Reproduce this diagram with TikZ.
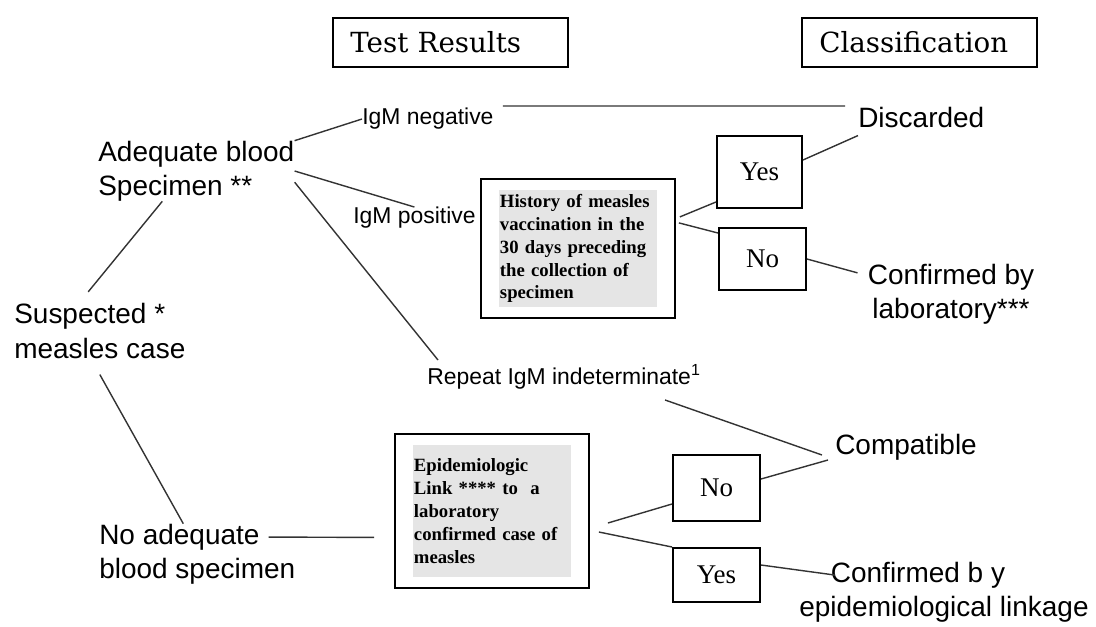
\documentclass[tikz,border=0pt]{standalone}
\usepackage{fontspec}
\setmainfont{Liberation Serif}
\setsansfont{Liberation Sans}
\newfontfamily\headfont{DejaVu Serif}
\usetikzlibrary{fit}

\begin{document}
\begin{tikzpicture}[x=0.025cm, y=-0.025cm,
	lbl/.style={inner sep=0pt, anchor=west, align=left, font=\sffamily\fontsize{19.9}{24.2}\selectfont},
	res/.style={inner sep=0pt, anchor=west, font=\sffamily\fontsize{16.3}{19.5}\selectfont},
	head/.style={draw, line width=1.4pt, minimum height=1.225cm, text width=5.005cm, inner xsep=0.435cm, align=left, font=\headfont\fontsize{19.7}{23}\selectfont},
	answer/.style={draw, line width=1.4pt, inner sep=0pt, font=\fontsize{19.2}{23}\selectfont},
	greybox/.style={fill=gray!20, inner sep=0.025cm, text width=3.9cm, align=left, font=\bfseries\fontsize{13.3}{16.3}\selectfont},
	outline/.style={draw, line width=1.4pt, inner xsep=0.44cm, inner ysep=0.27cm},
	link/.style={black!80, line width=1pt}]
	\useasboundingbox (0,0) rectangle (1096,626);

	% column headings
	\node [head] (tests) at (450.5,42.5) {Test Results};
	\node [head] (classes) at (919.5,42.5) {Classification};

	% cases and test results
	\node [lbl] (suspect) at (14,331) {Suspected *\\measles case};
	\node [lbl] (adequate) at (98,171) {Adequate blood\\Specimen **};
	\node [lbl] (noadequate) at (99,554) {No adequate\\blood specimen};
	\node [res] (igmneg) at (362,119) {IgM negative};
	\node [res] (igmpos) at (353,218) {IgM positive};
	\node [res] (repeat) at (427,377) {Repeat IgM indeterminate\textsuperscript{1}};

	% questions
	\node [greybox, minimum height=2.925cm] (histtext) at (578,248.5) {History of measles\\vaccination in the\\30 days preceding\\the collection of\\specimen};
	\node [outline, fit=(histtext)] (history) {};
	\node [greybox, minimum height=3.3cm] (epitext) at (492,511) {Epidemiologic\\Link **** to~ a\\laboratory\\confirmed case of\\measles};
	\node [outline, fit=(epitext)] (epilink) {};

	\node [answer, minimum width=2.125cm, minimum height=1.8cm] (yes1) at (759.5,172) {Yes};
	\node [answer, minimum width=2.175cm, minimum height=1.55cm] (no1) at (762.5,259) {No};
	\node [answer, minimum width=2.175cm, minimum height=1.65cm] (no2) at (716.5,488) {No};
	\node [answer, minimum width=2.175cm, minimum height=1.35cm] (yes2) at (716.5,575) {Yes};

	% classification
	\node [lbl] (discarded) at (858,117) {Discarded};
	\node [lbl, anchor=center, align=center] (bylab) at (951,294) {Confirmed by\\laboratory***};
	\node [lbl] (compatible) at (835,447) {Compatible};
	\node [lbl, anchor=center, align=center] (byepi) at (944,592) {Confirmed b y\hspace*{1.3cm}\\epidemiological linkage};

	% connectors
	\draw [link] ([xshift=-0.85cm]adequate.south) -- ([shift={(-0.29cm,0.29cm)}]suspect.north);
	\draw [link] ([yshift=-0.4cm]suspect.south) -- ([xshift=-0.35cm]noadequate.north);
	\draw [link] (adequate.north east) -- (igmneg.west);
	\draw [link] (adequate.east) -- (igmpos.north);
	\draw [link] ([yshift=-0.28cm]adequate.east) -- ([shift={(0.275cm,0.11cm)}]repeat.north west);
	\draw [link] ([shift={(-0.675cm,-0.335cm)}]noadequate.north east) -- ([shift={(-0.5cm,-0.66cm)}]epilink.west);
	\draw [link] ([shift={(0.225cm,0.325cm)}]igmneg.east) -- ([shift={(-0.325cm,0.275cm)}]discarded.west);
	\draw [link] ([shift={(0.1cm,0.79cm)}]history.east) -- ([yshift=0.175cm]yes1.south west);
	\draw [link] ([shift={(0.075cm,0.64cm)}]history.east) -- ([yshift=-0.15cm]no1.north west);
	\draw [link] ([yshift=0.3cm]yes1.east) -- ([yshift=-0.2cm]discarded.south west);
	\draw [link] (no1.east) -- ([shift={(-0.25cm,-0.23cm)}]bylab.north west);
	\draw [link] ([shift={(5.95cm,-0.26cm)}]repeat.south west) -- ([shift={(-0.325cm,-0.2cm)}]compatible.west);
	\draw [link] ([shift={(0.45cm,-0.3cm)}]epilink.east) -- ([yshift=-0.4cm]no2.west);
	\draw [link] ([shift={(0.225cm,-0.525cm)}]epilink.east) -- (yes2.north west);
	\draw [link] ([yshift=0.225cm]no2.east) -- ([shift={(-0.175cm,-0.325cm)}]compatible.west);
	\draw [link] ([yshift=0.25cm]yes2.east) -- ([shift={(-2.725cm,-0.335cm)}]byepi.north);
\end{tikzpicture}
\end{document}
